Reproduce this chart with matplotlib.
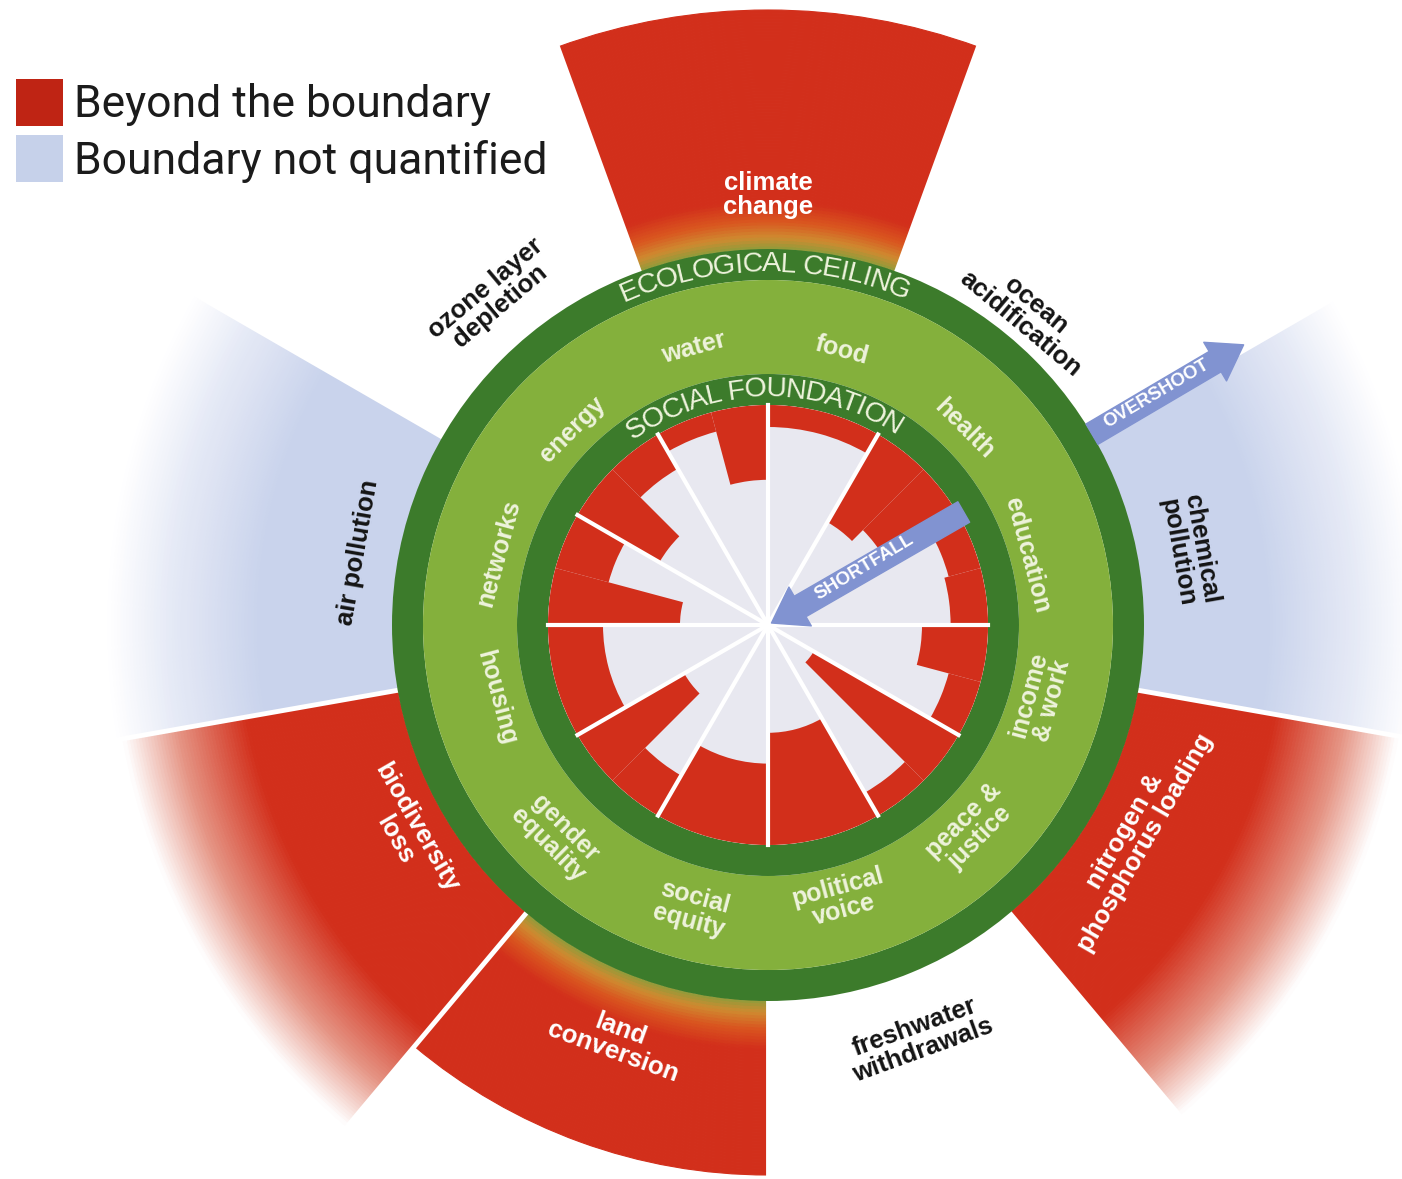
import numpy as np
import matplotlib
matplotlib.use("Agg")
import matplotlib.pyplot as plt
from matplotlib.patches import Patch
from matplotlib.colors import to_rgb
from matplotlib.font_manager import FontProperties
from matplotlib.textpath import TextToPath

# planetary boundaries, clockwise from the top, 40 degrees each
boundaries = ['climate\nchange', 'ocean\nacidification', 'chemical\npollution',
              'nitrogen &\nphosphorus loading', 'freshwater\nwithdrawals',
              'land\nconversion', 'biodiversity\nloss', 'air pollution',
              'ozone layer\ndepletion']
boundary_state = ['over', 'safe', 'unknown', 'over', 'safe', 'over', 'over', 'unknown', 'safe']
boundary_reach = [615, 0, 650, 640, 0, 550, 655, 660, 0]   # outer reach of the wedge (px)

# social foundation, clockwise from the top, 30 degrees each
dimensions = ['food', 'health', 'education', 'income\n& work', 'peace &\njustice',
              'political\nvoice', 'social\nequity', 'gender\nequality', 'housing',
              'networks', 'energy', 'water']
# shortfall (% of the foundation) for each sub-indicator of a dimension
shortfall = [[10], [46, 39], [15, 17], [30, 15], [76, 12], [51], [37],
             [21, 56], [25], [60, 25], [43, 18], [9, 34]]

legend_labels = ['Beyond the boundary', 'Boundary not quantified']

# ---- layout / style ----
W, H = 1402, 1179
CX, CY, RMAX = 768, 625, 700
R_FOUND = 220                      # inner edge of the social foundation ring
R_IN_DARK, R_LIGHT, R_OUT_DARK = 251, 345, 376

RED = '#d22f1b'
DARK = '#3c7b2b'
LIGHT = '#84b03c'
GREY = '#e8e8f0'
BLUE = '#c9d3ec'
ARROW = '#8193d1'
CREAM = '#eef3dc'
INK = '#141414'

ring_glow = [True, False, False, False, False, True, False, False, False]
outer_label_r = [430, 405, 428, 424, 440, 442, 418, 416, 428]
social_label_r = [284, 277, 268, 282, 288, 283, 294, 299, 281, 279, 276, 287]

lab_font = 'Liberation Sans'

fig = plt.figure(figsize=(W / 100, H / 100), dpi=100)
ax = fig.add_axes([(CX - RMAX) / W, (H - CY - RMAX) / H, 2 * RMAX / W, 2 * RMAX / H],
                  projection='polar')
ax.set_theta_zero_location('N')
ax.set_theta_direction(-1)
ax.set_ylim(0, RMAX)
ax.axis('off')


def stacked(th, wd, r0, r1, stops, step=3.0):
    rs = [s[0] for s in stops]
    cs = np.array([to_rgb(s[1]) for s in stops])
    n = max(2, int((r1 - r0) / step))
    edges = np.linspace(r0, r1, n + 1)
    for a, b in zip(edges[:-1], edges[1:]):
        m = (a + b) / 2
        c = [np.interp(m, rs, cs[:, k]) for k in range(3)]
        ax.bar(th, b - a, width=wd, bottom=a, color=c, edgecolor=c, linewidth=0.8, zorder=1)


def tangent_rot(az):
    az = az % 360
    return 180 - az if 90 < az < 270 else -az


# outer wedges (ecological ceiling)
for i, (state, reach) in enumerate(zip(boundary_state, boundary_reach)):
    th = np.radians(40 * i)
    wd = np.radians(40)
    if state == 'over' and ring_glow[i]:
        stops = [(R_OUT_DARK, '#8f9c3a'), (R_OUT_DARK + 12, '#cf8a30'),
                 (R_OUT_DARK + 28, '#d9561f'), (R_OUT_DARK + 48, RED), (reach, RED)]
        stacked(th, wd, R_OUT_DARK, reach, stops)
    elif state == 'over':
        stops = [(R_OUT_DARK, RED), (reach - 125, RED), (reach - 55, '#e59484'), (reach, 'white')]
        stacked(th, wd, R_OUT_DARK, reach, stops)
    elif state == 'unknown':
        stops = [(R_OUT_DARK, BLUE), (reach - 150, BLUE), (reach - 60, '#e6eaf6'), (reach, 'white')]
        stacked(th, wd, R_OUT_DARK, reach, stops)

for k in range(9):
    th = np.radians(20 + 40 * k)
    ax.plot([th, th], [R_OUT_DARK, RMAX], color='white', lw=3.5, zorder=2)

# rings
full = 2 * np.pi
ax.bar(0, R_OUT_DARK - R_LIGHT, width=full, bottom=R_LIGHT, color=DARK, lw=0, zorder=3)
ax.bar(0, R_LIGHT - R_IN_DARK, width=full, bottom=R_IN_DARK, color=LIGHT, lw=0, zorder=3)
ax.bar(0, R_IN_DARK - R_FOUND, width=full, bottom=R_FOUND, color=DARK, lw=0, zorder=3)
ax.bar(0, R_FOUND, width=full, bottom=0, color=GREY, lw=0, zorder=3)

# shortfall wedges
for i, vals in enumerate(shortfall):
    sub = 30 / len(vals)
    for j, v in enumerate(vals):
        c = 30 * i + sub * (j + 0.5)
        r_in = R_FOUND * (1 - v / 100)
        ax.bar(np.radians(c), R_FOUND - r_in, width=np.radians(sub), bottom=r_in,
               color=RED, lw=0, zorder=4)

for k in range(12):
    th = np.radians(30 * k)
    ax.plot([th, th], [0, R_FOUND], color='white', lw=3, zorder=5)

# arrows
arrow_style = 'simple,head_length=0.7,head_width=0.95,tail_width=0.5'
ax.annotate('', xy=(np.radians(60), 4), xytext=(np.radians(60), 226),
            arrowprops=dict(arrowstyle=arrow_style, color=ARROW, shrinkA=0, shrinkB=0,
                            mutation_scale=34), zorder=6)
ax.annotate('', xy=(np.radians(59.5), 552), xytext=(np.radians(59.5), 376),
            arrowprops=dict(arrowstyle=arrow_style, color=ARROW, shrinkA=0, shrinkB=0,
                            mutation_scale=34), zorder=6)
ax.text(np.radians(59), 112, 'SHORTFALL', rotation=31, ha='center', va='center',
        rotation_mode='anchor', color='white', fontsize=13.5, fontweight='bold',
        family=lab_font, zorder=7)
ax.text(np.radians(59.2), 452, 'OVERSHOOT', rotation=30.5, ha='center', va='center',
        rotation_mode='anchor', color='white', fontsize=13.5, fontweight='bold',
        family=lab_font, zorder=7)

# labels
for i, name in enumerate(boundaries):
    az = 40 * i
    col = 'white' if boundary_state[i] == 'over' else INK
    ax.text(np.radians(az), outer_label_r[i], name, rotation=tangent_rot(az),
            ha='center', va='center', rotation_mode='anchor', multialignment='center',
            color=col, fontsize=18.5, fontweight='bold', family=lab_font,
            linespacing=1.0, zorder=7)

for i, name in enumerate(dimensions):
    az = 30 * i + 15
    ax.text(np.radians(az), social_label_r[i], name, rotation=tangent_rot(az),
            ha='center', va='center', rotation_mode='anchor', multialignment='center',
            color=CREAM, fontsize=18, fontweight='bold', family=lab_font,
            linespacing=1.0, zorder=7)

ttp = TextToPath()


def arc_text(s, r, az0, az1, fp):
    total = ttp.get_text_width_height_descent(s, fp, ismath=False)[0]
    for k, ch in enumerate(s):
        if ch == ' ':
            continue
        right = ttp.get_text_width_height_descent(s[:k + 1], fp, ismath=False)[0]
        w = ttp.get_text_width_height_descent(ch, fp, ismath=False)[0]
        a = az0 + (right - w / 2) / total * (az1 - az0)
        ax.text(np.radians(a), r, ch, rotation=-a, ha='center', va='center',
                rotation_mode='anchor', color=CREAM, fontproperties=fp, zorder=7)


arc_fp = FontProperties(family=lab_font, size=20.5)
arc_text('ECOLOGICAL CEILING', (R_LIGHT + R_OUT_DARK) / 2, -24, 23, arc_fp)
arc_text('SOCIAL FOUNDATION', (R_FOUND + R_IN_DARK) / 2, -36, 34, arc_fp)

# legend
handles = [Patch(facecolor='#bf2414', edgecolor='none'), Patch(facecolor='#c6d1ea', edgecolor='none')]
fig.legend(handles, legend_labels, loc='upper left', bbox_to_anchor=(16 / W, 1 - 79 / H),
           frameon=False, prop=FontProperties(family='Roboto', size=32),
           handlelength=1.06, handleheight=1.25, handletextpad=0.25, labelspacing=0.2,
           borderaxespad=0, borderpad=0, labelcolor='#1b1b1b')

fig.savefig('out.png', dpi=100, facecolor='white')
